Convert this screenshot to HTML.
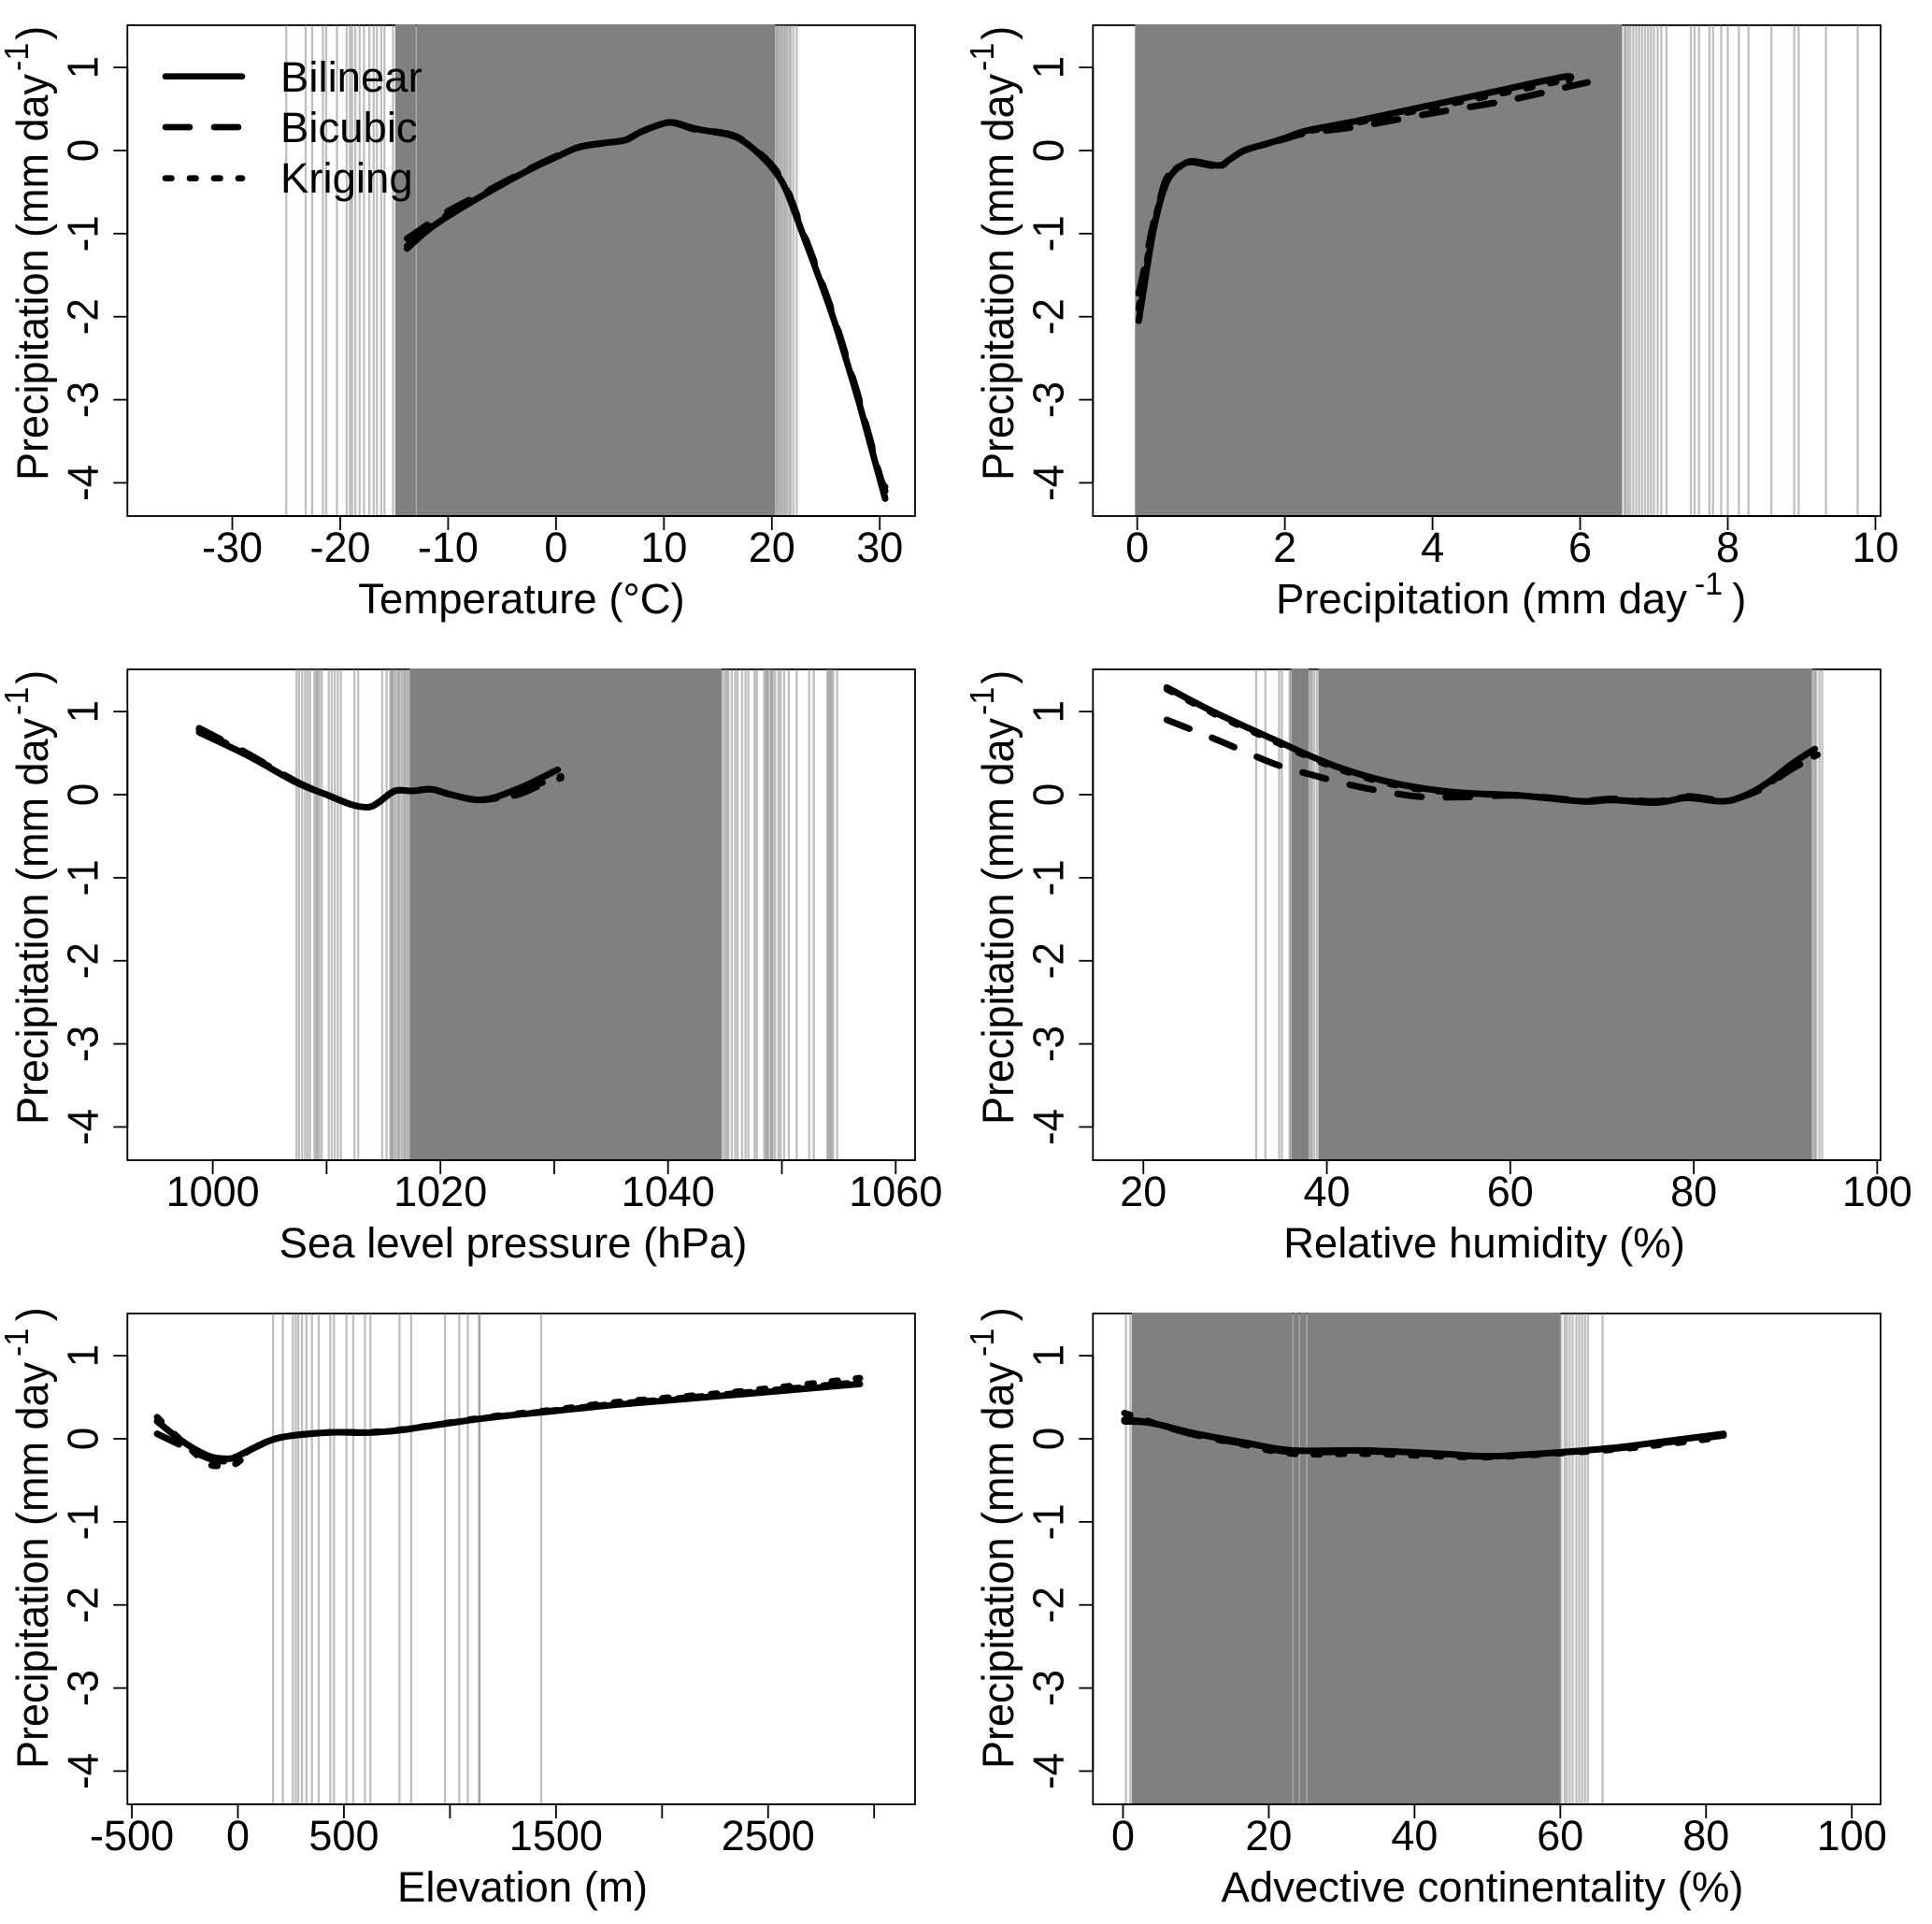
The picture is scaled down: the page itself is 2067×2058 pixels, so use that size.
<!DOCTYPE html>
<html>
<head>
<meta charset="utf-8">
<title>Precipitation partial dependence panels</title>
<style>
html,body{margin:0;padding:0;background:#fff;}
svg{display:block;}
text{font-family:"Liberation Sans",Arial,sans-serif;fill:#000;}
</style>
</head>
<body>
<svg id="figure" xmlns="http://www.w3.org/2000/svg" width="2067" height="2058" viewBox="0 0 2067 2058">
<rect x="0" y="0" width="2067" height="2058" fill="#fff"/>
<g id="panel-temp" transform="translate(136.3,27)"></g>
<g id="panel-prec" transform="translate(1169.3,27)"></g>
<g id="panel-slp" transform="translate(136.3,716)"></g>
<g id="panel-rh" transform="translate(1169.3,716)"></g>
<g id="panel-elev" transform="translate(136.3,1405)"></g>
<g id="panel-cont" transform="translate(1169.3,1405)"></g>

<g font-size="45.5">
<text font-size="45" transform="translate(51,514) rotate(-90) scale(1,1.05)">Precipitation (mm day<tspan dx="3" dy="-20" font-size="34">-1</tspan><tspan dx="3" dy="20">)</tspan></text>
<text font-size="45" transform="translate(1084,514) rotate(-90) scale(1,1.05)">Precipitation (mm day<tspan dx="3" dy="-20" font-size="34">-1</tspan><tspan dx="3" dy="20">)</tspan></text>
<text font-size="45" transform="translate(51,1203) rotate(-90) scale(1,1.05)">Precipitation (mm day<tspan dx="3" dy="-20" font-size="34">-1</tspan><tspan dx="3" dy="20">)</tspan></text>
<text font-size="45" transform="translate(1084,1203) rotate(-90) scale(1,1.05)">Precipitation (mm day<tspan dx="3" dy="-20" font-size="34">-1</tspan><tspan dx="3" dy="20">)</tspan></text>
<text font-size="45" transform="translate(51,1892) rotate(-90) scale(1,1.05)">Precipitation (mm day<tspan dx="6" dy="-20" font-size="34">-1</tspan><tspan dx="7.5" dy="20">)</tspan></text>
<text font-size="45" transform="translate(1084,1892) rotate(-90) scale(1,1.05)">Precipitation (mm day<tspan dx="6" dy="-20" font-size="34">-1</tspan><tspan dx="7.5" dy="20">)</tspan></text>

<text x="558" y="656" text-anchor="middle">Temperature (°C)</text>
<text x="1365" y="656">Precipitation (mm day<tspan dx="8" dy="-20" font-size="34">-1</tspan><tspan dx="10" dy="20">)</tspan></text>
<text x="549" y="1345" text-anchor="middle">Sea level pressure (hPa)</text>
<text x="1588" y="1345" text-anchor="middle">Relative humidity (%)</text>
<text x="559" y="2034" text-anchor="middle">Elevation (m)</text>
<text x="1586" y="2034" text-anchor="middle">Advective continentality (%)</text>
</g>

<g>
<line x1="177" y1="81.7" x2="259" y2="81.7" stroke="#000" stroke-width="6.7" stroke-linecap="round"/>
<line x1="177" y1="136" x2="259" y2="136" stroke="#000" stroke-width="6.7" stroke-linecap="round" stroke-dasharray="26 26"/>
<line x1="177" y1="190.7" x2="259" y2="190.7" stroke="#000" stroke-width="6.7" stroke-linecap="round" stroke-dasharray="6.5 19.5"/>
<text x="300" y="98" font-size="45.5">Bilinear</text>
<text x="300" y="152" font-size="45.5">Bicubic</text>
<text x="300" y="206" font-size="45.5">Kriging</text>
</g>
</svg>

<script>
// ---- shared y axis ----
const yTicks = [-4, -3, -2, -1, 0, 1];
const yLabels = ["-4", "-3", "-2", "-1", "0", "1"];

// ---- Temperature ----
const tempXTicks = [-30, -20, -10, 0, 10, 20, 30];
const tempXLabels = ["-30", "-20", "-10", "0", "10", "20", "30"];
const tempX = [-13.8, -12, -10, -6.45, -2.45, 0, 2.1, 4.4, 6.4, 7.8, 9.8, 11, 13, 16, 17.5, 19.2, 20.4, 21.4, 22.85, 24.2, 25.65, 26.8, 28, 29.05, 30.1, 30.5];
const tempBilinear = [-1.18, -0.97, -0.79, -0.515, -0.23, -0.08, 0.04, 0.09, 0.125, 0.22, 0.32, 0.335, 0.26, 0.19, 0.10, -0.09, -0.27, -0.5, -1, -1.47, -2, -2.48, -3, -3.5, -4, -4.19];
const tempBicubic = [-1.06, -0.9, -0.73, -0.49, -0.22, -0.07, 0.04, 0.09, 0.125, 0.22, 0.32, 0.33, 0.25, 0.2, 0.11, -0.07, -0.24, -0.46, -0.96, -1.43, -1.96, -2.44, -2.95, -3.45, -3.95, -4.05];
const tempKriging = [-1.15, -0.95, -0.77, -0.5, -0.22, -0.07, 0.04, 0.09, 0.125, 0.22, 0.32, 0.335, 0.26, 0.2, 0.1, -0.08, -0.25, -0.48, -0.98, -1.45, -1.98, -2.46, -2.97, -3.47, -3.96, -4.1];
const tempRug = [-25, -23.2, -22.6, -21.6, -21.3, -20.3, -19.4, -19.1, -18.9, -18.6, -18.2, -17.8, -17.3, -16.9, -16.6, -16.2, -15.9, -15.1, -12.96, 20.4, 20.5, 20.65, 20.8, 20.95, 21.1, 21.25, 21.4, 21.6, 21.75, 22, 22.3];
const tempDenseStart = [-14.9, -12.92];
const tempDenseEnd = [-13, 20.3];

// ---- Precipitation ----
const precXTicks = [0, 2, 4, 6, 8, 10];
const precXLabels = ["0", "2", "4", "6", "8", "10"];
const precBilinearX = [0.02, 0.1, 0.2, 0.3, 0.4, 0.5, 0.6, 0.75, 1.1, 1.25, 1.45, 1.75, 2, 2.3, 3, 4, 5, 5.8, 5.85];
const precBilinear = [-2.05, -1.6, -1.05, -0.65, -0.38, -0.25, -0.18, -0.13, -0.18, -0.11, 0, 0.08, 0.15, 0.24, 0.36, 0.55, 0.74, 0.89, 0.84];
const precBicubicX = [0.02, 0.1, 0.2, 0.3, 0.4, 0.6, 0.75, 1.1, 1.25, 1.45, 1.75, 2, 2.3, 3, 4, 5, 5.8, 6.1];
const precBicubic = [-1.72, -1.4, -0.95, -0.62, -0.33, -0.18, -0.14, -0.19, -0.11, 0, 0.08, 0.14, 0.21, 0.29, 0.45, 0.6, 0.76, 0.82];
const precKrigingX = [0.02, 0.1, 0.2, 0.3, 0.4, 0.5, 0.6, 0.75, 1.1, 1.25, 1.45, 1.75, 2, 2.3, 3, 4, 5, 5.8];
const precKriging = [-1.9, -1.5, -1.0, -0.63, -0.36, -0.24, -0.18, -0.14, -0.19, -0.11, 0, 0.08, 0.15, 0.23, 0.34, 0.52, 0.7, 0.85];
const precRug = [6.6, 6.62, 6.65, 6.68, 6.72, 6.76, 6.8, 6.84, 6.88, 6.92, 6.96, 7, 7.05, 7.1, 7.17, 7.5, 7.55, 7.61, 7.75, 7.8, 7.91, 8, 8.15, 8.28, 8.59, 8.9, 8.96, 9.33, 9.76];
const precDenseStart = [-0.03];
const precDenseEnd = [6.57];

// ---- Sea level pressure ----
const slpXTicks = [1000, 1010, 1020, 1030, 1040, 1050, 1060];
const slpXLabels = ["1000", "", "1020", "", "1040", "", "1060"];
const slpX = [998.8, 1003, 1007.3, 1010, 1012.2, 1013.7, 1014.6, 1016, 1017.6, 1019.2, 1020.8, 1023, 1024.6, 1026.8, 1028.4, 1030.3];
const slpBilinear = [0.75, 0.475, 0.15, 0, -0.12, -0.15, -0.09, 0.045, 0.045, 0.065, 0.005, -0.06, -0.04, 0.07, 0.17, 0.3];
const slpBicubicX = [998.8, 1003, 1007.3, 1010, 1012.2, 1013.7, 1014.6, 1016, 1017.6, 1019.2, 1020.8, 1023, 1024.6, 1026.8, 1028.4, 1030.6];
const slpBicubic = [0.8, 0.5, 0.16, 0, -0.12, -0.15, -0.09, 0.045, 0.045, 0.065, 0.005, -0.06, -0.05, 0, 0.09, 0.2];
const slpKriging = [0.78, 0.49, 0.16, 0, -0.12, -0.15, -0.09, 0.045, 0.045, 0.065, 0.005, -0.06, -0.05, 0.03, 0.12, 0.22];
const slpRug = [1007.36, 1007.58, 1007.85, 1008.12, 1008.34, 1008.55, 1008.93, 1009.1, 1009.2, 1009.37, 1009.58, 1010.18, 1010.45, 1010.72, 1010.99, 1011.26, 1012.45, 1012.78, 1014.89, 1015.27, 1015.59, 1015.7, 1015.8, 1015.95, 1016.13, 1016.3, 1016.4, 1016.6, 1016.78, 1016.9, 1017.05, 1017.2, 1044.8, 1045, 1045.15, 1045.3, 1045.6, 1045.9, 1046.1, 1046.5, 1046.8, 1047.05, 1047.6, 1047.8, 1048.45, 1048.6, 1048.7, 1048.8, 1049, 1049.1, 1049.2, 1049.4, 1049.7, 1049.9, 1050.2, 1050.6, 1051.3, 1052.4, 1052.8, 1054, 1054.1, 1054.25, 1054.35, 1054.5, 1054.85];
const slpDenseStart = [1017.3];
const slpDenseEnd = [1044.7];

// ---- Relative humidity ----
const rhXTicks = [20, 40, 60, 80, 100];
const rhXLabels = ["20", "40", "60", "80", "100"];
const rhX = [22.55, 27.6, 34.3, 41, 47.7, 54.4, 61, 67.8, 71.2, 75.9, 79.3, 83.3, 85.97, 88, 90.7, 93.2];
const rhBilinear = [1.29, 1, 0.66, 0.34, 0.13, 0.025, -0.01, -0.08, -0.065, -0.095, -0.04, -0.08, 0.01, 0.14, 0.37, 0.55];
const rhBicubicX = [22.55, 27.6, 34.3, 38.3, 43.7, 49.7, 54.4, 61, 67.8, 71.2, 75.9, 79.3, 83.3, 85.97, 88, 90.7, 93.5];
const rhBicubic = [0.9, 0.68, 0.37, 0.24, 0.09, -0.02, -0.03, -0.01, -0.07, -0.05, -0.08, -0.02, -0.07, 0, 0.11, 0.31, 0.47];
const rhKrigingX = [22.55, 27.6, 34.3, 41, 47.7, 54.4, 61, 67.8, 71.2, 75.9, 79.3, 83.3, 85.97, 88, 90.7, 93.5];
const rhKriging = [1.27, 0.98, 0.64, 0.32, 0.11, 0.02, -0.01, -0.08, -0.06, -0.09, -0.03, -0.08, 0, 0.12, 0.33, 0.48];
const rhRug = [32.3, 33.3, 34.8, 35.1, 35.95, 36.05, 38.1, 38.25, 38.4, 38.65, 38.95, 93.05, 93.2, 93.35, 93.7, 94];
const rhDenseStart = [36.15, 39.1];
const rhDenseEnd = [38, 92.9];

// ---- Elevation ----
const elevXTicks = [-500, 0, 500, 1000, 1500, 2000, 2500, 3000];
const elevXLabels = ["-500", "0", "500", "", "1500", "", "2500", ""];
const elevX = [-381, -250, -134, -47, -3, 84, 200, 419, 622, 767, 971, 1203, 1494, 1785, 2366, 2933];
const elevBilinear = [0.21, -0.05, -0.21, -0.24, -0.21, -0.1, 0.015, 0.075, 0.075, 0.105, 0.18, 0.26, 0.335, 0.41, 0.535, 0.66];
const elevBicubic = [0.06, -0.1, -0.24, -0.27, -0.23, -0.1, 0.015, 0.075, 0.075, 0.105, 0.18, 0.26, 0.34, 0.42, 0.55, 0.68];
const elevKriging = [0.26, -0.06, -0.31, -0.3, -0.29, -0.1, 0.015, 0.075, 0.08, 0.11, 0.185, 0.27, 0.35, 0.44, 0.57, 0.73];
const elevRug = [166, 212, 259, 273, 285, 302, 323, 349, 381, 436, 453, 512, 544, 599, 625, 762, 817, 977, 1044, 1084, 1137, 1140, 1430];
const elevDenseStart = [];
const elevDenseEnd = [];

// ---- Advective continentality ----
const contXTicks = [0, 20, 40, 60, 80, 100];
const contXLabels = ["0", "20", "40", "60", "80", "100"];
const contX = [0.2, 3.9, 9.8, 16.6, 23.3, 33.4, 43.6, 50.3, 58.8, 67.2, 74, 82.4];
const contBilinear = [0.21, 0.19, 0.065, -0.045, -0.14, -0.14, -0.18, -0.21, -0.17, -0.11, -0.035, 0.06];
const contBicubic = [0.23, 0.19, 0.05, -0.06, -0.16, -0.15, -0.19, -0.21, -0.17, -0.12, -0.05, 0.04];
const contKriging = [0.31, 0.2, 0.05, -0.07, -0.18, -0.18, -0.21, -0.22, -0.18, -0.13, -0.07, 0.02];
const contRug = [0.4, 1, 23.3, 24.2, 25.2, 60.1, 60.6, 60.9, 61.3, 61.7, 62.2, 62.6, 63, 63.4, 63.8, 65.8];
const contDenseStart = [1.2, 23.36, 24.26, 25.26];
const contDenseEnd = [23.24, 24.14, 25.14, 60];

// ---- layout (not data) ----
const plotW = 842.7;
const plotH = 525;
const yMin = -4.4;
const yMax = 1.508;
const NS = 'http://www.w3.org/2000/svg';

function mk(tag, parent) {
  const el = document.createElementNS(NS, tag);
  parent.appendChild(el);
  return el;
}
function yScale(v) { return plotH * (yMax - v) / (yMax - yMin); }
function smoothPath(pts) {
  let d = 'M' + pts[0][0].toFixed(2) + ' ' + pts[0][1].toFixed(2);
  for (let i = 0; i < pts.length - 1; i++) {
    const p0 = pts[Math.max(i - 1, 0)], p1 = pts[i], p2 = pts[i + 1], p3 = pts[Math.min(i + 2, pts.length - 1)];
    const c1x = p1[0] + (p2[0] - p0[0]) / 6, c1y = p1[1] + (p2[1] - p0[1]) / 6;
    const c2x = p2[0] - (p3[0] - p1[0]) / 6, c2y = p2[1] - (p3[1] - p1[1]) / 6;
    d += 'C' + c1x.toFixed(2) + ' ' + c1y.toFixed(2) + ' ' + c2x.toFixed(2) + ' ' + c2y.toFixed(2) + ' ' + p2[0].toFixed(2) + ' ' + p2[1].toFixed(2);
  }
  return d;
}
function drawCurve(g, xScale, xs, ys, dash, name) {
  const pts = xs.map(function (x, i) { return [xScale(x), yScale(ys[i])]; });
  const path = mk('path', g);
  
  
  path.setAttribute('d', smoothPath(pts));
  path.setAttribute('fill', 'none');
  path.setAttribute('stroke', '#000');
  path.setAttribute('stroke-width', '7');
  path.setAttribute('stroke-linecap', 'round');
  path.setAttribute('stroke-linejoin', 'round');
  if (dash) path.setAttribute('stroke-dasharray', dash);
}
function drawPanel(id, xMin, xMax, cfg) {
  const g = document.getElementById(id);
  const xScale = function (v) { return plotW * (v - xMin) / (xMax - xMin); };

  // data-density rug: solid runs
  cfg.denseStart.forEach(function (a, i) {
    const r = mk('rect', g);
    
    
    r.setAttribute('x', xScale(a).toFixed(2));
    r.setAttribute('y', '0');
    r.setAttribute('width', (xScale(cfg.denseEnd[i]) - xScale(a)).toFixed(2));
    r.setAttribute('height', plotH);
    r.setAttribute('fill', '#808080');
  });

  // plot frame
  const box = mk('rect', g);
  
  
  box.setAttribute('x', '0');
  box.setAttribute('y', '0');
  box.setAttribute('width', plotW);
  box.setAttribute('height', plotH);
  box.setAttribute('fill', 'none');
  box.setAttribute('stroke', '#000');
  box.setAttribute('stroke-width', '1.8');

  // isolated rug lines
  cfg.rug.forEach(function (v) {
    const l = mk('line', g);
    
    
    l.setAttribute('x1', xScale(v).toFixed(2));
    l.setAttribute('x2', xScale(v).toFixed(2));
    l.setAttribute('y1', '0');
    l.setAttribute('y2', plotH);
    l.setAttribute('stroke', '#808080');
    l.setAttribute('stroke-opacity', '0.5');
    l.setAttribute('stroke-width', '2.3');
  });
  cfg.denseStart.forEach(function (a, i) {
    const r = mk('rect', g);
    
    
    r.setAttribute('x', xScale(a).toFixed(2));
    r.setAttribute('y', '-1');
    r.setAttribute('width', (xScale(cfg.denseEnd[i]) - xScale(a)).toFixed(2));
    r.setAttribute('height', '2');
    r.setAttribute('fill', '#808080');
  });

  // series
  drawCurve(g, xScale, cfg.bilinearX, cfg.bilinear, null, 'series-bilinear');
  drawCurve(g, xScale, cfg.bicubicX, cfg.bicubic, '26 26', 'series-bicubic');
  drawCurve(g, xScale, cfg.krigingX, cfg.kriging, '6.5 19.5', 'series-kriging');

  // x axis
  const xa = mk('line', g);
  
  
  xa.setAttribute('x1', xScale(cfg.xTicks[0]).toFixed(2));
  xa.setAttribute('x2', xScale(cfg.xTicks[cfg.xTicks.length - 1]).toFixed(2));
  xa.setAttribute('y1', plotH);
  xa.setAttribute('y2', plotH);
  xa.setAttribute('stroke', '#000');
  xa.setAttribute('stroke-width', '2');
  cfg.xTicks.forEach(function (v, i) {
    const t = mk('line', g);
    
    
    t.setAttribute('x1', xScale(v).toFixed(2));
    t.setAttribute('x2', xScale(v).toFixed(2));
    t.setAttribute('y1', plotH);
    t.setAttribute('y2', plotH + 15);
    t.setAttribute('stroke', '#000');
    t.setAttribute('stroke-width', '1.8');
    if (cfg.xLabels[i] !== '') {
      const lab = mk('text', g);
      
      
      lab.setAttribute('x', xScale(v).toFixed(2));
      lab.setAttribute('y', plotH + 49);
      lab.setAttribute('text-anchor', 'middle');
      lab.setAttribute('font-size', '45');
      lab.textContent = cfg.xLabels[i];
    }
  });

  // y axis
  const ya = mk('line', g);
  
  
  ya.setAttribute('x1', '0');
  ya.setAttribute('x2', '0');
  ya.setAttribute('y1', yScale(yTicks[0]).toFixed(2));
  ya.setAttribute('y2', yScale(yTicks[yTicks.length - 1]).toFixed(2));
  ya.setAttribute('stroke', '#000');
  ya.setAttribute('stroke-width', '2');
  yTicks.forEach(function (v, i) {
    const t = mk('line', g);
    
    
    t.setAttribute('x1', '-15');
    t.setAttribute('x2', '0');
    t.setAttribute('y1', yScale(v).toFixed(2));
    t.setAttribute('y2', yScale(v).toFixed(2));
    t.setAttribute('stroke', '#000');
    t.setAttribute('stroke-width', '1.8');
    const lab = mk('text', g);
    
    
    lab.setAttribute('transform', 'translate(-32,' + yScale(v).toFixed(2) + ') rotate(-90) scale(1,1.05)');
    lab.setAttribute('text-anchor', 'middle');
    lab.setAttribute('font-size', '44');
    lab.textContent = yLabels[i];
  });
}

drawPanel('panel-temp', -39.72, 33.27, {
  xTicks: tempXTicks, xLabels: tempXLabels, rug: tempRug, denseStart: tempDenseStart, denseEnd: tempDenseEnd,
  bilinearX: tempX, bilinear: tempBilinear, bicubicX: tempX, bicubic: tempBicubic, krigingX: tempX, kriging: tempKriging
});
drawPanel('panel-prec', -0.6, 10.07, {
  xTicks: precXTicks, xLabels: precXLabels, rug: precRug, denseStart: precDenseStart, denseEnd: precDenseEnd,
  bilinearX: precBilinearX, bilinear: precBilinear, bicubicX: precBicubicX, bicubic: precBicubic, krigingX: precKrigingX, kriging: precKriging
});
drawPanel('panel-slp', 992.5, 1061.7, {
  xTicks: slpXTicks, xLabels: slpXLabels, rug: slpRug, denseStart: slpDenseStart, denseEnd: slpDenseEnd,
  bilinearX: slpX, bilinear: slpBilinear, bicubicX: slpBicubicX, bicubic: slpBicubic, krigingX: slpBicubicX, kriging: slpKriging
});
drawPanel('panel-rh', 14.5, 100.37, {
  xTicks: rhXTicks, xLabels: rhXLabels, rug: rhRug, denseStart: rhDenseStart, denseEnd: rhDenseEnd,
  bilinearX: rhX, bilinear: rhBilinear, bicubicX: rhBicubicX, bicubic: rhBicubic, krigingX: rhKrigingX, kriging: rhKriging
});
drawPanel('panel-elev', -521, 3193, {
  xTicks: elevXTicks, xLabels: elevXLabels, rug: elevRug, denseStart: elevDenseStart, denseEnd: elevDenseEnd,
  bilinearX: elevX, bilinear: elevBilinear, bicubicX: elevX, bicubic: elevBicubic, krigingX: elevX, kriging: elevKriging
});
drawPanel('panel-cont', -4.13, 103.95, {
  xTicks: contXTicks, xLabels: contXLabels, rug: contRug, denseStart: contDenseStart, denseEnd: contDenseEnd,
  bilinearX: contX, bilinear: contBilinear, bicubicX: contX, bicubic: contBicubic, krigingX: contX, kriging: contKriging
});
</script>
</body>
</html>
